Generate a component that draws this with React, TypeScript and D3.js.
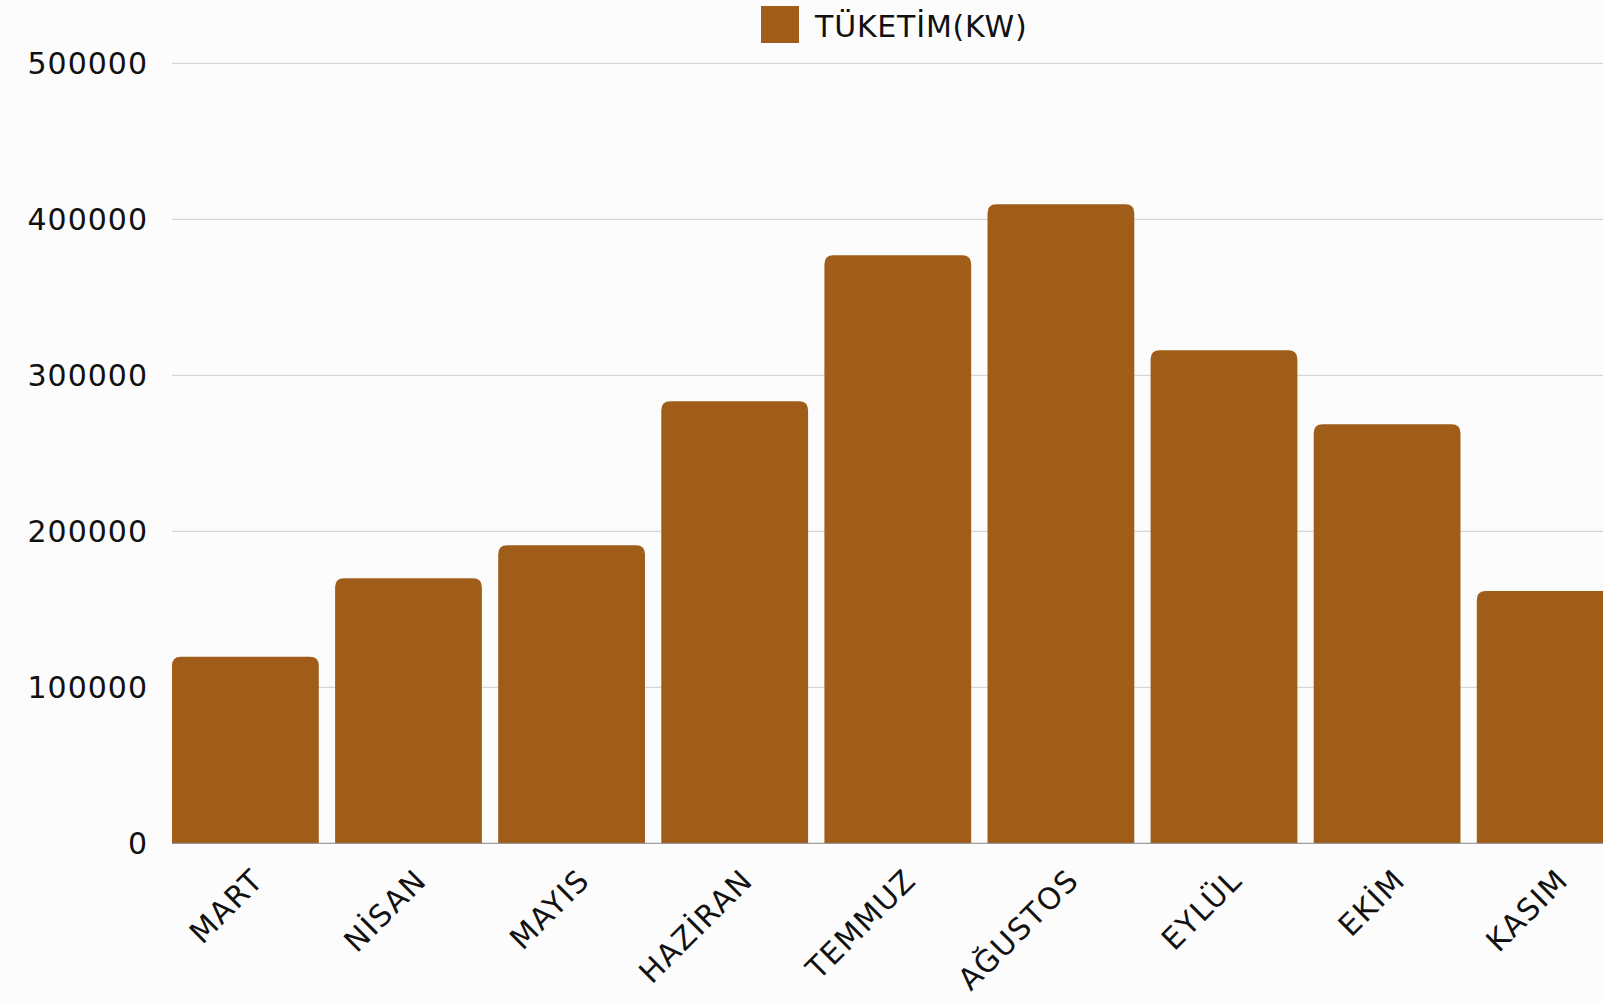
import React from "react";
import * as d3 from "d3";

const months = ["MART", "NİSAN", "MAYIS", "HAZİRAN", "TEMMUZ", "AĞUSTOS", "EYLÜL", "EKİM", "KASIM"];
const consumption = [119600, 169900, 191000, 283300, 376900, 409600, 316000, 268600, 161700];
const yTicks = [0, 100000, 200000, 300000, 400000, 500000];
const seriesName = "TÜKETİM(KW)";

const W = 1603;
const H = 1003;
const FONT = "'DejaVu Sans', sans-serif";
const BAR = "#A05C19";

function topRoundedRect(x: number, y: number, w: number, h: number, r: number) {
  const rr = Math.min(r, w / 2, h);
  return `M${x},${y + h}V${y + rr}Q${x},${y} ${x + rr},${y}H${x + w - rr}Q${x + w},${y} ${x + w},${y + rr}V${y + h}Z`;
}

export default function App() {
  const x = d3.scaleBand<string>().domain(months).range([172, 172 + 163.1 * 8.9]).paddingInner(0.1).paddingOuter(0);
  const y = d3.scaleLinear().domain([0, 500000]).range([843.3, 63.3]);
  const plotRight = 1700;

  return (
    <svg width={W} height={H} style={{ position: "absolute", left: 0, top: 0, background: "#fcfcfc" }}>
      <rect x={0} y={0} width={W} height={H} fill="#fcfcfc" />
      {yTicks.map((t) => (
        <g key={t}>
          {t !== 0 && <line x1={172} x2={plotRight} y1={y(t)} y2={y(t)} stroke="#cccccc" strokeWidth={1} />}
          <text x={148} y={y(t)} dy="0.36em" textAnchor="end" fontFamily={FONT} fontSize={30} letterSpacing={1} fill="#111">
            {t}
          </text>
        </g>
      ))}
      {months.map((m, i) => {
        const bx = x(m)!;
        const by = y(consumption[i]);
        return <path key={m} d={topRoundedRect(bx, by, x.bandwidth(), y(0) - by, 9)} fill={BAR} />;
      })}
      <line x1={172} x2={plotRight} y1={y(0)} y2={y(0)} stroke="#888" strokeWidth={1} />
      {months.map((m) => {
        const cx = x(m)! + x.bandwidth() / 2;
        return (
          <text
            key={m}
            transform={`translate(${cx + 20},${882}) rotate(-45)`}
            textAnchor="end"
            fontFamily={FONT}
            fontSize={30}
            letterSpacing={1.5}
            fill="#111"
          >
            {m}
          </text>
        );
      })}
      <rect x={761} y={6} width={38} height={37} fill={BAR} />
      <text x={815} y={36.5} fontFamily={FONT} fontSize={30} letterSpacing={0.8} fill="#111">
        {seriesName}
      </text>
    </svg>
  );
}
